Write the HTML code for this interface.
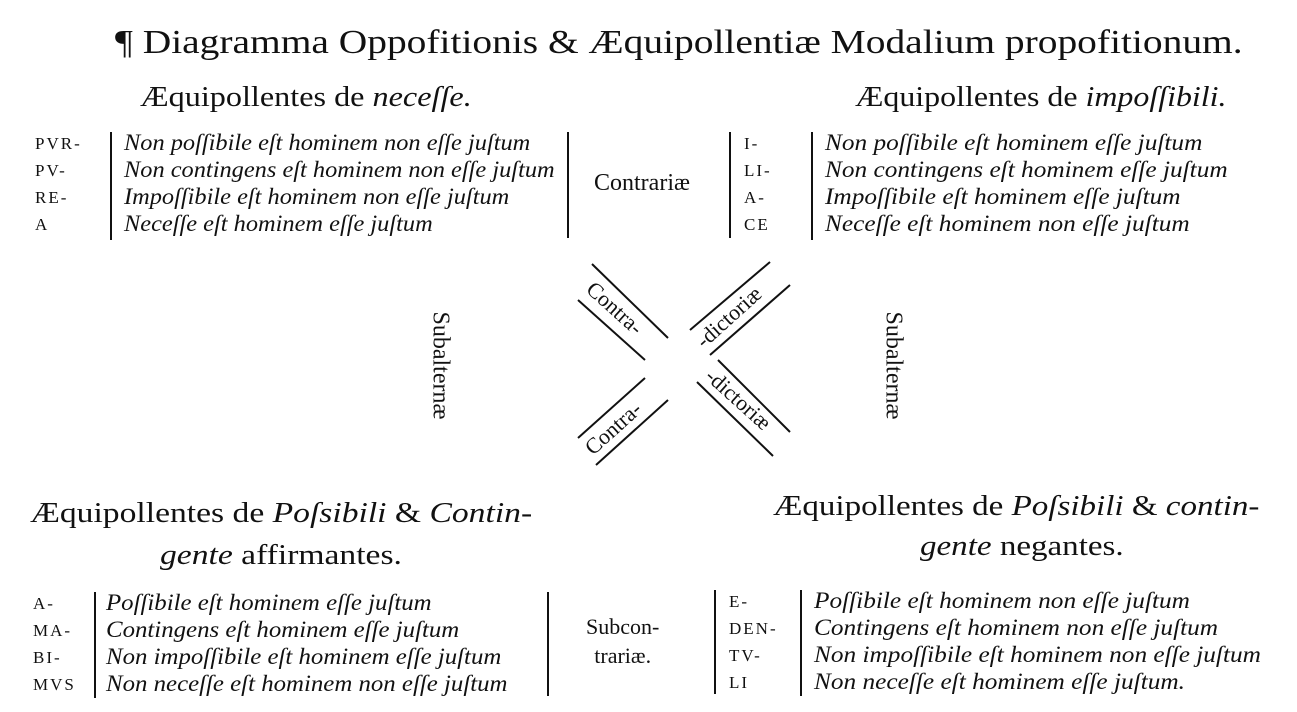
<!DOCTYPE html>
<html><head><meta charset="utf-8"><style>
body{margin:0;width:1297px;height:712px;background:#fff;position:relative;overflow:hidden;font-family:"Liberation Serif",serif;color:#111}
.t{position:absolute;white-space:nowrap;transform-origin:0 0}
.i{font-style:italic}
.r{font-size:23px;font-style:italic;line-height:27px}
.lab{font-size:17px;line-height:27px;letter-spacing:2px}
.bar{position:absolute;width:2px;background:#111}
</style></head><body>
<div class="t" style="left:115px;top:24px;font-size:34px;transform:scaleX(1.16)">¶ Diagramma Oppofitionis &amp; Æquipollentiæ Modalium propofitionum.</div>
<div class="t" style="left:140px;top:82px;font-size:28px;transform:scaleX(1.15)">Æquipollentes de <span class="i">neceſſe.</span></div>
<div class="t" style="left:855px;top:82px;font-size:28px;transform:scaleX(1.14)">Æquipollentes de <span class="i">impoſſibili.</span></div>

<div class="t lab" style="left:35px;top:130px">PVR-<br>PV-<br>RE-<br>A</div>
<div class="bar" style="left:110px;top:132px;height:108px"></div>
<div class="t r" style="left:124px;top:129px;transform:scaleX(1.06)">Non poſſibile eſt hominem non eſſe juſtum<br>Non contingens eſt hominem non eſſe juſtum<br>Impoſſibile eſt hominem non eſſe juſtum<br>Neceſſe eſt hominem eſſe juſtum</div>
<div class="bar" style="left:567px;top:132px;height:106px"></div>
<div class="t" style="left:594px;top:170px;font-size:24px">Contrariæ</div>
<div class="bar" style="left:729px;top:132px;height:106px"></div>
<div class="t lab" style="left:744px;top:130px">I-<br>LI-<br>A-<br>CE</div>
<div class="bar" style="left:811px;top:132px;height:108px"></div>
<div class="t r" style="left:825px;top:129px;transform:scaleX(1.1)">Non poſſibile eſt hominem eſſe juſtum<br>Non contingens eſt hominem eſſe juſtum<br>Impoſſibile eſt hominem eſſe juſtum<br>Neceſſe eſt hominem non eſſe juſtum</div>

<div class="t" style="left:380px;top:352px;font-size:24px;transform:rotate(90deg);transform-origin:50% 50%;width:120px;text-align:center">Subalternæ</div>
<div class="t" style="left:833px;top:352px;font-size:24px;transform:rotate(90deg);transform-origin:50% 50%;width:120px;text-align:center">Subalternæ</div>

<svg style="position:absolute;left:0;top:0" width="1297" height="712">
<g stroke="#111" stroke-width="2" fill="none">
<line x1="592" y1="264" x2="668" y2="338"/><line x1="578" y1="300" x2="645" y2="360"/>
<line x1="697" y1="382" x2="773" y2="456"/><line x1="718" y1="360" x2="790" y2="432"/>
<line x1="770" y1="262" x2="690" y2="330"/><line x1="790" y1="285" x2="710" y2="355"/>
<line x1="645" y1="378" x2="578" y2="438"/><line x1="668" y1="400" x2="596" y2="465"/>
</g>
<g font-family="Liberation Serif,serif" font-size="22" fill="#111">
<text transform="translate(585,291) rotate(42)">Contra-</text>
<text transform="translate(704,349) rotate(-42)">-dictoriæ</text>
<text transform="translate(593,456) rotate(-42)">Contra-</text>
<text transform="translate(704,378) rotate(42)">-dictoriæ</text>
</g></svg>

<div class="t" style="left:30px;top:498px;font-size:28px;transform:scaleX(1.2)">Æquipollentes de <span class="i">Poſsibili</span> &amp; <span class="i">Contin-</span></div>
<div class="t" style="left:160px;top:540px;font-size:28px;transform:scaleX(1.2)"><span class="i">gente</span> affirmantes.</div>
<div class="t" style="left:773px;top:491px;font-size:28px;transform:scaleX(1.18)">Æquipollentes de <span class="i">Poſsibili</span> &amp; <span class="i">contin-</span></div>
<div class="t" style="left:920px;top:531px;font-size:28px;transform:scaleX(1.18)"><span class="i">gente</span> negantes.</div>

<div class="t lab" style="left:33px;top:590px">A-<br>MA-<br>BI-<br>MVS</div>
<div class="bar" style="left:94px;top:592px;height:106px"></div>
<div class="t r" style="left:106px;top:589px;transform:scaleX(1.08)">Poſſibile eſt hominem eſſe juſtum<br>Contingens eſt hominem eſſe juſtum<br>Non impoſſibile eſt hominem eſſe juſtum<br>Non neceſſe eſt hominem non eſſe juſtum</div>
<div class="bar" style="left:547px;top:592px;height:104px"></div>
<div class="t" style="left:586px;top:612px;font-size:22px;line-height:29px;text-align:center">Subcon-<br>trariæ.</div>
<div class="bar" style="left:714px;top:590px;height:104px"></div>
<div class="t lab" style="left:729px;top:588px">E-<br>DEN-<br>TV-<br>LI</div>
<div class="bar" style="left:800px;top:590px;height:106px"></div>
<div class="t r" style="left:814px;top:587px;transform:scaleX(1.1)">Poſſibile eſt hominem non eſſe juſtum<br>Contingens eſt hominem non eſſe juſtum<br>Non impoſſibile eſt hominem non eſſe juſtum<br>Non neceſſe eſt hominem eſſe juſtum.</div>
</body></html>
